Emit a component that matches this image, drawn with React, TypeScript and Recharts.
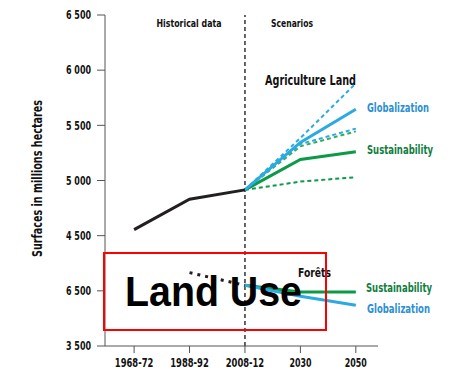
import React from 'react';
import { LineChart, Line, XAxis, YAxis, ReferenceLine } from 'recharts';

// x positions (years) and their printed labels
const years = [1970, 1990, 2010, 2030, 2050];
const xTickLabels = ['1968-72', '1988-92', '2008-12', '2030', '2050'];

const yTicks = [3500, 4000, 4500, 5000, 5500, 6000, 6500];
const yTickLabels = ['3 500', '6 500', '4 500', '5 000', '5 500', '6 000', '6 500'];

// agricultural land, millions of hectares
const agriHistory = [4555, 4830, 4915, null, null];
const agriGlobal = [null, null, 4915, 5345, 5645];
const agriSustain = [null, null, 4915, 5190, 5260];
const agriGlobalHigh = [null, null, 4915, 5385, 5880];
const agriGlobalMid = [null, null, 4915, 5330, 5470];
const agriSustainMid = [null, null, 4915, 5310, 5445];
const agriSustainLow = [null, null, 4915, 4990, 5030];

// forests
const forestHistory = [null, 4165, 4050, null, null];
const forestSustain = [null, null, 4050, 3990, 3990];
const forestGlobal = [null, null, 4050, 3950, 3870];

const data = years.map((year, i) => ({
  year,
  agriHistory: agriHistory[i],
  agriGlobal: agriGlobal[i],
  agriSustain: agriSustain[i],
  agriGlobalHigh: agriGlobalHigh[i],
  agriGlobalMid: agriGlobalMid[i],
  agriSustainMid: agriSustainMid[i],
  agriSustainLow: agriSustainLow[i],
  forestHistory: forestHistory[i],
  forestSustain: forestSustain[i],
  forestGlobal: forestGlobal[i],
}));

const FONT = "'Liberation Sans Narrow', 'DejaVu Sans Condensed', 'Liberation Sans', sans-serif";
const BLUE = '#2aaae2';
const BLUE_TEXT = '#2b8fd3';
const GREEN = '#0b9a47';
const GREEN_TEXT = '#0e7d3d';
const DARK = '#231f20';

// condensed bold labels: squeeze to the width seen in the original
const Txt = ({ w, children, ...rest }: any) => (
  <text fontFamily={FONT} fontWeight={700} textLength={w} lengthAdjust="spacingAndGlyphs" {...rest}>
    {children}
  </text>
);

const XTick = ({ x, y, payload }: any) => {
  const label = xTickLabels[years.indexOf(payload.value)];
  return (
    <Txt x={x} y={y} dy="0.71em" fontSize={12} textAnchor="middle" fill="#111" w={label.length * 5.5}>
      {label}
    </Txt>
  );
};

const YTick = ({ x, y, payload }: any) => {
  const label = yTickLabels[yTicks.indexOf(payload.value)];
  return (
    <Txt x={x} y={y} dy="0.35em" fontSize={12} textAnchor="end" fill="#111" w={25}>
      {label}
    </Txt>
  );
};

export default function App() {
  return (
    <div style={{ position: 'absolute', left: 0, top: 0, width: 450, height: 382, background: '#fff' }}>
      <LineChart width={450} height={382} data={data} margin={{ top: 15, right: 72, bottom: 0, left: 0 }}>
        <XAxis
          dataKey="year"
          type="number"
          domain={[1959.5, 2058]}
          ticks={years}
          height={36}
          tickSize={7}
          tickMargin={5}
          tick={<XTick />}
          stroke="#555"
          allowDataOverflow
        />
        <YAxis
          type="number"
          domain={[3500, 6500]}
          ticks={yTicks}
          width={105}
          tickSize={8}
          tickMargin={6}
          tick={<YTick />}
          stroke="#555"
          allowDataOverflow
        />
        <ReferenceLine x={2010} stroke="#333" strokeWidth={1.5} strokeDasharray="4 3" />

        <Line dataKey="agriSustainLow" stroke={GREEN} strokeWidth={2} strokeDasharray="4 3" dot={false} isAnimationActive={false} />
        <Line dataKey="agriSustainMid" stroke="#2fae5e" strokeWidth={2} strokeDasharray="4 3" dot={false} isAnimationActive={false} />
        <Line dataKey="agriGlobalMid" stroke={BLUE} strokeWidth={2} strokeDasharray="4 3" dot={false} isAnimationActive={false} />
        <Line dataKey="agriGlobalHigh" stroke={BLUE} strokeWidth={2} strokeDasharray="4 3" dot={false} isAnimationActive={false} />
        <Line dataKey="agriSustain" stroke={GREEN} strokeWidth={3} dot={false} isAnimationActive={false} />
        <Line dataKey="agriGlobal" stroke={BLUE} strokeWidth={3} dot={false} isAnimationActive={false} />
        <Line dataKey="agriHistory" stroke={DARK} strokeWidth={3} dot={false} isAnimationActive={false} />

        <Line dataKey="forestHistory" stroke={DARK} strokeWidth={3} strokeDasharray="3 5" dot={false} isAnimationActive={false} />
        <Line dataKey="forestSustain" stroke={GREEN} strokeWidth={3} dot={false} isAnimationActive={false} />
        <Line dataKey="forestGlobal" stroke={BLUE} strokeWidth={3} dot={false} isAnimationActive={false} />
      </LineChart>

      {/* annotations */}
      <svg width={450} height={382} style={{ position: 'absolute', left: 0, top: 0, pointerEvents: 'none' }}>
        <Txt x={42} y={178.5} fontSize={13.5} textAnchor="middle" fill="#111" transform="rotate(-90, 42, 178.5)" w={157}>
          Surfaces in  millions hectares
        </Txt>
        <Txt x={189} y={27} fontSize={11} textAnchor="middle" fill="#111" w={65}>Historical data</Txt>
        <Txt x={292} y={27} fontSize={11} textAnchor="middle" fill="#111" w={42}>Scenarios</Txt>
        <Txt x={265} y={85} fontSize={14} fill="#111" w={91}>Agriculture Land</Txt>
        <Txt x={367} y={112} fontSize={12} fill={BLUE_TEXT} w={62}>Globalization</Txt>
        <Txt x={367} y={154} fontSize={12} fill={GREEN_TEXT} w={66}>Sustainability</Txt>
        <Txt x={298} y={277} fontSize={13} fill="#111" w={33}>Forêts</Txt>
        <Txt x={366} y={292} fontSize={12} fill={GREEN_TEXT} w={66}>Sustainability</Txt>
        <Txt x={367} y={313} fontSize={12} fill={BLUE_TEXT} w={63}>Globalization</Txt>
        <rect x={104} y={253} width={222} height={77} fill="none" stroke="#ff0000" strokeWidth={2} />
        <text
          x={125}
          y={306}
          fontSize={42}
          fontWeight={700}
          fontFamily="'Liberation Sans', Arial, sans-serif"
          textLength={177}
          lengthAdjust="spacingAndGlyphs"
          fill="#000"
        >
          Land Use
        </text>
      </svg>
    </div>
  );
}
